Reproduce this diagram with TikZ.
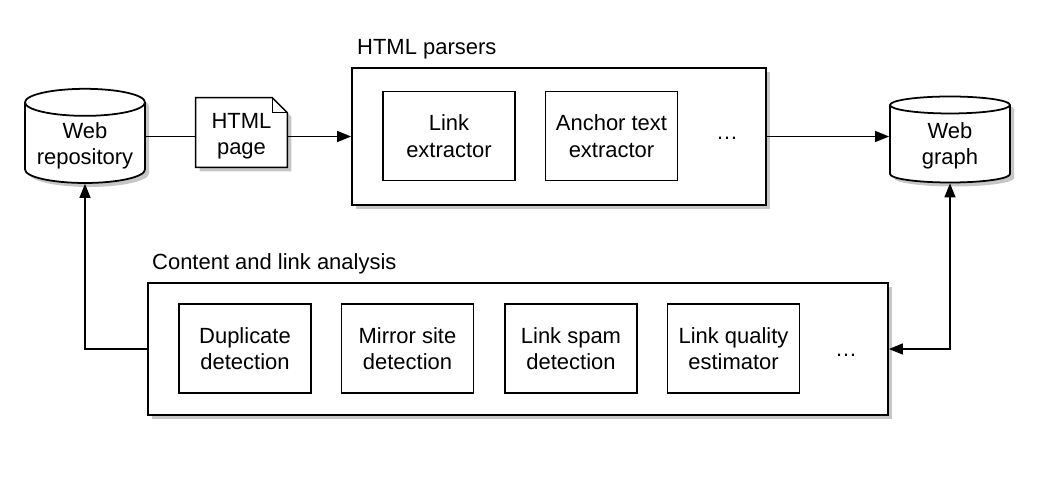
\documentclass[tikz,border=0pt]{standalone}
\usepackage{fontspec}
\setmainfont{Liberation Sans}
\usepackage{tikz}
\usetikzlibrary{shapes.geometric, arrows.meta, positioning, shadows}
\tikzstyle{arrow} = [line width=0.8pt,-{Triangle[length=0.28cm,width=0.22cm]}]
\tikzstyle{shade} = [drop shadow={shadow xshift=0.08cm,shadow yshift=-0.08cm,opacity=0.45}]
\tikzstyle{box} = [draw,line width=0.7pt,fill=white,minimum width=2.64cm,minimum height=1.78cm,align=center]
\tikzstyle{outer} = [draw,line width=1pt,fill=white,shade]
\tikzstyle{db} = [draw,line width=1pt,fill=white,shade,cylinder,shape border rotate=90,aspect=0.25,minimum width=2.4cm,minimum height=1.72cm,align=center]

\begin{document}
\begin{tikzpicture}[font=\fontsize{12.5}{15}\selectfont]
  \useasboundingbox (0,0) rectangle (20.92,-9.6);

  % Draw the two databases
  \node[db] (repo) at (1.7,-2.92) {Web\\repository};
  \node[db] (graph) at (19.0,-2.92) {Web\\graph};

  % Draw the HTML page with a folded corner
  \node[minimum width=1.82cm,minimum height=1.38cm,align=center] (page) at (4.83,-2.65) {};
  \draw[line width=0.8pt,fill=white,shade] (page.south west) -- (page.north west)
    -- ([xshift=-0.3cm]page.north east) -- ([yshift=-0.3cm]page.north east)
    -- (page.south east) -- cycle;
  \draw[line width=0.6pt] ([xshift=-0.3cm]page.north east) -- ++(0,-0.3) -- ([yshift=-0.3cm]page.north east);
  \node[align=center] at ([yshift=-0.08cm]page.center) {HTML\\page};

  % Draw the HTML parsers
  \node[outer,minimum width=8.28cm,minimum height=2.74cm] (parsers) at (11.18,-2.73) {};
  \node[anchor=base west] at (7.02,-1.08) {HTML parsers};
  \node[box] (link) at (8.98,-2.72) {Link\\extractor};
  \node[box] (anchor) at (12.23,-2.72) {Anchor text\\extractor};
  \node (dotsA) at (14.54,-2.76) {\dots};

  % Draw the content and link analysis
  \node[outer,minimum width=14.8cm,minimum height=2.64cm] (content) at (10.36,-6.98) {};
  \node[anchor=base west] at (2.92,-5.38) {Content and link analysis};
  \node[box] (dup) at (4.9,-6.97) {Duplicate\\detection};
  \node[box] (mirror) at (8.15,-6.97) {Mirror site\\detection};
  \node[box] (spam) at (11.42,-6.97) {Link spam\\detection};
  \node[box] (quality) at (14.67,-6.97) {Link quality\\estimator};
  \node (dotsB) at (16.92,-7.1) {\dots};

  % Draw the connections
  \draw[line width=0.8pt] (repo.east |- parsers.west) -- (page.west |- parsers.west);
  \draw[arrow] (page.east |- parsers.west) -- (parsers.west);
  \draw[arrow] (parsers.east) -- (parsers.east -| graph.west);
  \draw[arrow] (content.west) -| (repo.south);
  \draw[arrow,{Triangle[length=0.28cm,width=0.22cm]}-{Triangle[length=0.28cm,width=0.22cm]}] (graph.south) |- (content.east);
\end{tikzpicture}
\end{document}
